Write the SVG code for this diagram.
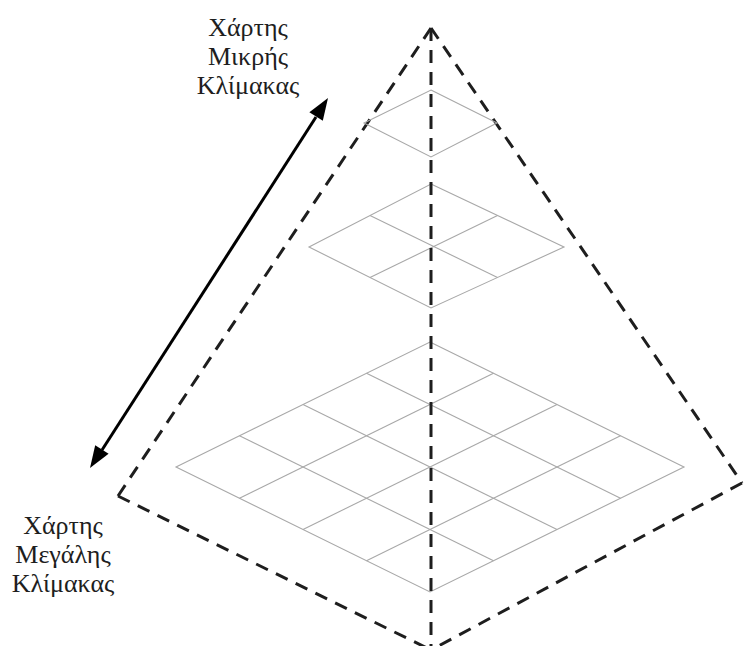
<svg xmlns="http://www.w3.org/2000/svg" width="744" height="646" viewBox="0 0 744 646">
<style>
.lbl{font-family:"Liberation Serif","Times New Roman",serif;font-size:26px;fill:#1e1e1e;text-anchor:middle}
.dash{fill:none;stroke:#1e1e1e;stroke-width:3;stroke-dasharray:13 9}
.grid{fill:none;stroke:#a8a8a8;stroke-width:1.1}
.arrow{stroke:#000;stroke-width:3;fill:none}
.head{fill:#000}
</style>
<rect width="744" height="646" fill="#fff"/>
<g id="pyramid">
  <line class="dash" x1="431" y1="28" x2="118" y2="496"/>
  <line class="dash" x1="431" y1="28" x2="742" y2="483"/>
  <line class="dash" x1="118" y1="496" x2="431" y2="650"/>
  <line class="dash" x1="742" y1="483" x2="431" y2="650"/>
</g>
<g id="map-small">
  <polygon class="grid" points="431,90 497,123 431,157 364,123"/>
</g>
<g id="map-medium">
  <polygon class="grid" points="431,184 564,247 431,308 309,247"/>
  <line class="grid" x1="370" y1="215.5" x2="497.5" y2="277.5"/>
  <line class="grid" x1="497.5" y1="215.5" x2="370" y2="277.5"/>
</g>
<g id="map-large">
  <polygon class="grid" points="430,342 684,467 430,592 176,467"/>
  <line class="grid" x1="239.5" y1="435.75" x2="493.5" y2="560.75"/>
  <line class="grid" x1="303" y1="404.5" x2="557" y2="529.5"/>
  <line class="grid" x1="366.5" y1="373.25" x2="620.5" y2="498.25"/>
  <line class="grid" x1="620.5" y1="435.75" x2="366.5" y2="560.75"/>
  <line class="grid" x1="557" y1="404.5" x2="303" y2="529.5"/>
  <line class="grid" x1="493.5" y1="373.25" x2="239.5" y2="498.25"/>
</g>
<g id="axis">
  <line class="dash" x1="431" y1="28" x2="431" y2="646"/>
</g>
<g id="connectors">
  <line class="arrow" x1="316" y1="117" x2="102" y2="450"/>
  <polygon class="head" points="328,98 322.8,120.8 309.4,112.2"/>
  <polygon class="head" points="90,468 108.6,453.8 95.2,445.2"/>
</g>
<g id="label-small">
  <text class="lbl" x="248" y="36">Χάρτης</text>
  <text class="lbl" x="248" y="65">Μικρής</text>
  <text class="lbl" x="248" y="94">Κλίμακας</text>
</g>
<g id="label-large">
  <text class="lbl" x="63" y="534">Χάρτης</text>
  <text class="lbl" x="63" y="563">Μεγάλης</text>
  <text class="lbl" x="63" y="592">Κλίμακας</text>
</g>
</svg>
